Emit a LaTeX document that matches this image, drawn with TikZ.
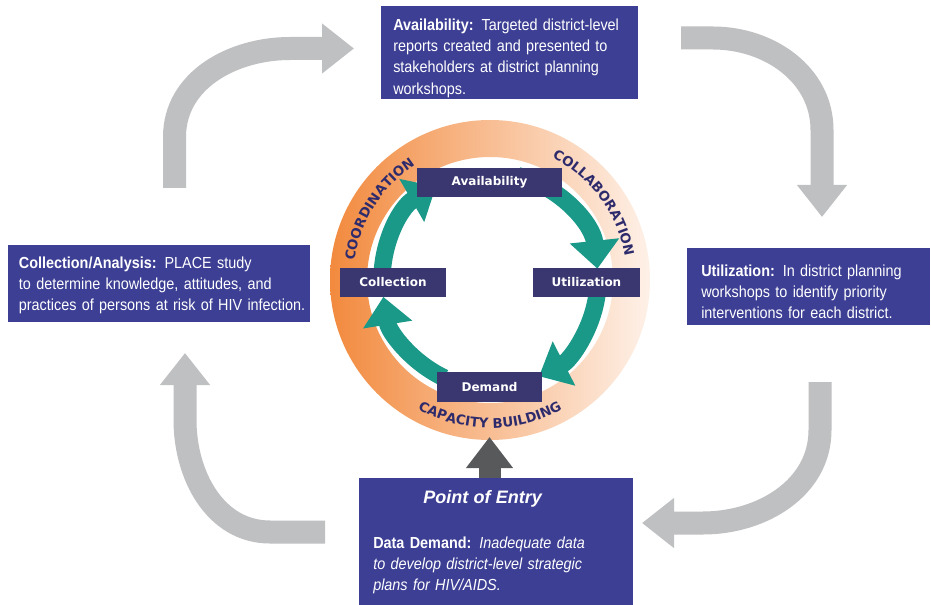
\documentclass[tikz,border=0pt]{standalone}
\usepackage{fontspec}
\usepackage{tikz}
\usetikzlibrary{arrows.meta, decorations.text, positioning}

\setmainfont{Liberation Sans}
\newfontfamily\boxfont[FakeStretch=0.9]{Liberation Sans}
\newfontfamily\ringfont{DejaVu Sans}

\definecolor{boxblue}{RGB}{61,63,148}
\definecolor{cycblue}{RGB}{57,54,112}
\definecolor{cycteal}{RGB}{26,153,137}
\definecolor{arrowgray}{RGB}{191,192,194}
\definecolor{entrygray}{RGB}{88,89,91}
\definecolor{ringorange}{RGB}{242,138,62}
\definecolor{ringlight}{RGB}{254,241,232}
\definecolor{ringtext}{RGB}{46,43,109}

\tikzset{
	outerbox/.style={fill=boxblue, text=white, anchor=north west, align=left, inner ysep=0pt, font=\boxfont\fontsize{12}{16}\selectfont},
	cyclebox/.style={fill=cycblue, text=white, minimum height=21.75pt, inner sep=0pt, font=\ringfont\bfseries\fontsize{9}{11}\selectfont},
	cyclearrow/.style={draw=cycteal, line width=13pt, -{Triangle[width=36pt, length=21pt]}},
	grayarrow/.style={draw=arrowgray, line width=17.25pt, -{Triangle[width=36pt, length=24pt]}},
	entryarrow/.style={draw=entrygray, line width=16.5pt, -{Triangle[width=33.75pt, length=23.25pt]}},
	ringlabel/.style={decorate, decoration={text along path, text align=center, text color=ringtext, text={|\ringfont\bfseries\fontsize{10}{12}\selectfont|#1}}}
}

\begin{document}
\begin{tikzpicture}[x=0.75pt, y=0.75pt]
	\useasboundingbox (0,0) rectangle (931,604);
	\fill[white] (0,0) rectangle (931,604);
	\coordinate (c) at (490,324);

	% ring
	\shade[left color=ringorange, right color=ringlight, even odd rule] (c) circle[radius=120pt] (c) circle[radius=92.25pt];
	\path[ringlabel=COORDINATION] (c) ++(185:102.75pt) arc[start angle=185, end angle=110, radius=102.75pt];
	\path[ringlabel=COLLABORATION] (c) ++(75:102.75pt) arc[start angle=75, end angle=-2, radius=102.75pt];
	\path[ringlabel=CAPACITY BUILDING] (c) ++(-130:111pt) arc[start angle=-130, end angle=-50, radius=111pt];

	% cycle
	\draw[cyclearrow] (c) ++(185:81pt) arc[start angle=185, end angle=120, radius=81pt];
	\draw[cyclearrow] (c) ++(75:81pt) arc[start angle=75, end angle=6, radius=81pt];
	\draw[cyclearrow] (c) ++(-8:81pt) arc[start angle=-8, end angle=-63, radius=81pt];
	\draw[cyclearrow] (c) ++(-115:81pt) arc[start angle=-115, end angle=-171, radius=81pt];

	\node[cyclebox, minimum width=108.75pt] (avail) at (489.5,421.5) {Availability};
	\node[cyclebox, minimum width=79.5pt] (coll) at (393,321.5) {Collection};
	\node[cyclebox, minimum width=80.25pt] (util) at (586.5,321.5) {Utilization};
	\node[cyclebox, minimum width=78.75pt, minimum height=22.5pt] (dem) at (489.5,217) {Demand};

	% outer boxes
	\node[outerbox, inner xsep=9pt, text width=174.75pt, text height=18pt, text depth=51.75pt] (availbox) at (381,598)
		{\textbf{Availability:} Targeted district-level\\reports created and presented to\\stakeholders at district planning\\workshops.};
	\node[outerbox, inner xsep=8pt, text width=210.5pt, text height=17.25pt, text depth=40.5pt] (collbox) at (8,359)
		{\textbf{Collection/Analysis:} PLACE study\\to determine knowledge, attitudes, and\\\mbox{practices of persons at risk of HIV infection.}};
	\node[outerbox, inner xsep=10.5pt, text width=161.25pt, text height=21pt, text depth=36.75pt] (utilbox) at (687,356)
		{\textbf{Utilization:} In district planning\\workshops to identify priority\\interventions for each district.};
	\node[outerbox, inner xsep=10.5pt, text width=184.5pt, text height=18.75pt, text depth=76pt] (dembox) at (359,126)
		{\hspace*{37.5pt}{\rmfamily\fontsize{13.5}{16}\selectfont\bfseries\itshape Point of Entry}\\[17.75pt]
		\textbf{Data Demand:} {\itshape Inadequate data}\\{\itshape to develop district-level strategic}\\{\itshape plans for HIV/AIDS.}};

	% big arrows
	\coordinate (g1a) at (174.5,416);
	\coordinate (g1b) at (354,555.5);
	\coordinate (g2a) at (681,566);
	\coordinate (g2b) at (822,387);
	\coordinate (g3a) at (820,222);
	\coordinate (g3b) at (642,81);
	\coordinate (g4a) at (325,72);
	\coordinate (g4b) at (185,251);
	\draw[grayarrow] (g1a) -- ++(0,51) to[out=90, in=180] ++(115.5,88.5) -- (g1b);
	\draw[grayarrow] (g2a) -- ++(32,0) to[out=0, in=90] ++(109,-92) -- (g2b);
	\draw[grayarrow] (g3a) -- ++(0,-48) to[out=-90, in=0] ++(-117,-93) -- (g3b);
	\draw[grayarrow] (g4a) -- ++(-55,0) to[out=180, in=-90] ++(-85,112) -- (g4b);

	\coordinate (entry) at (489.5,167);
	\draw[entryarrow] (dembox.north -| entry) -- (entry);
\end{tikzpicture}
\end{document}
